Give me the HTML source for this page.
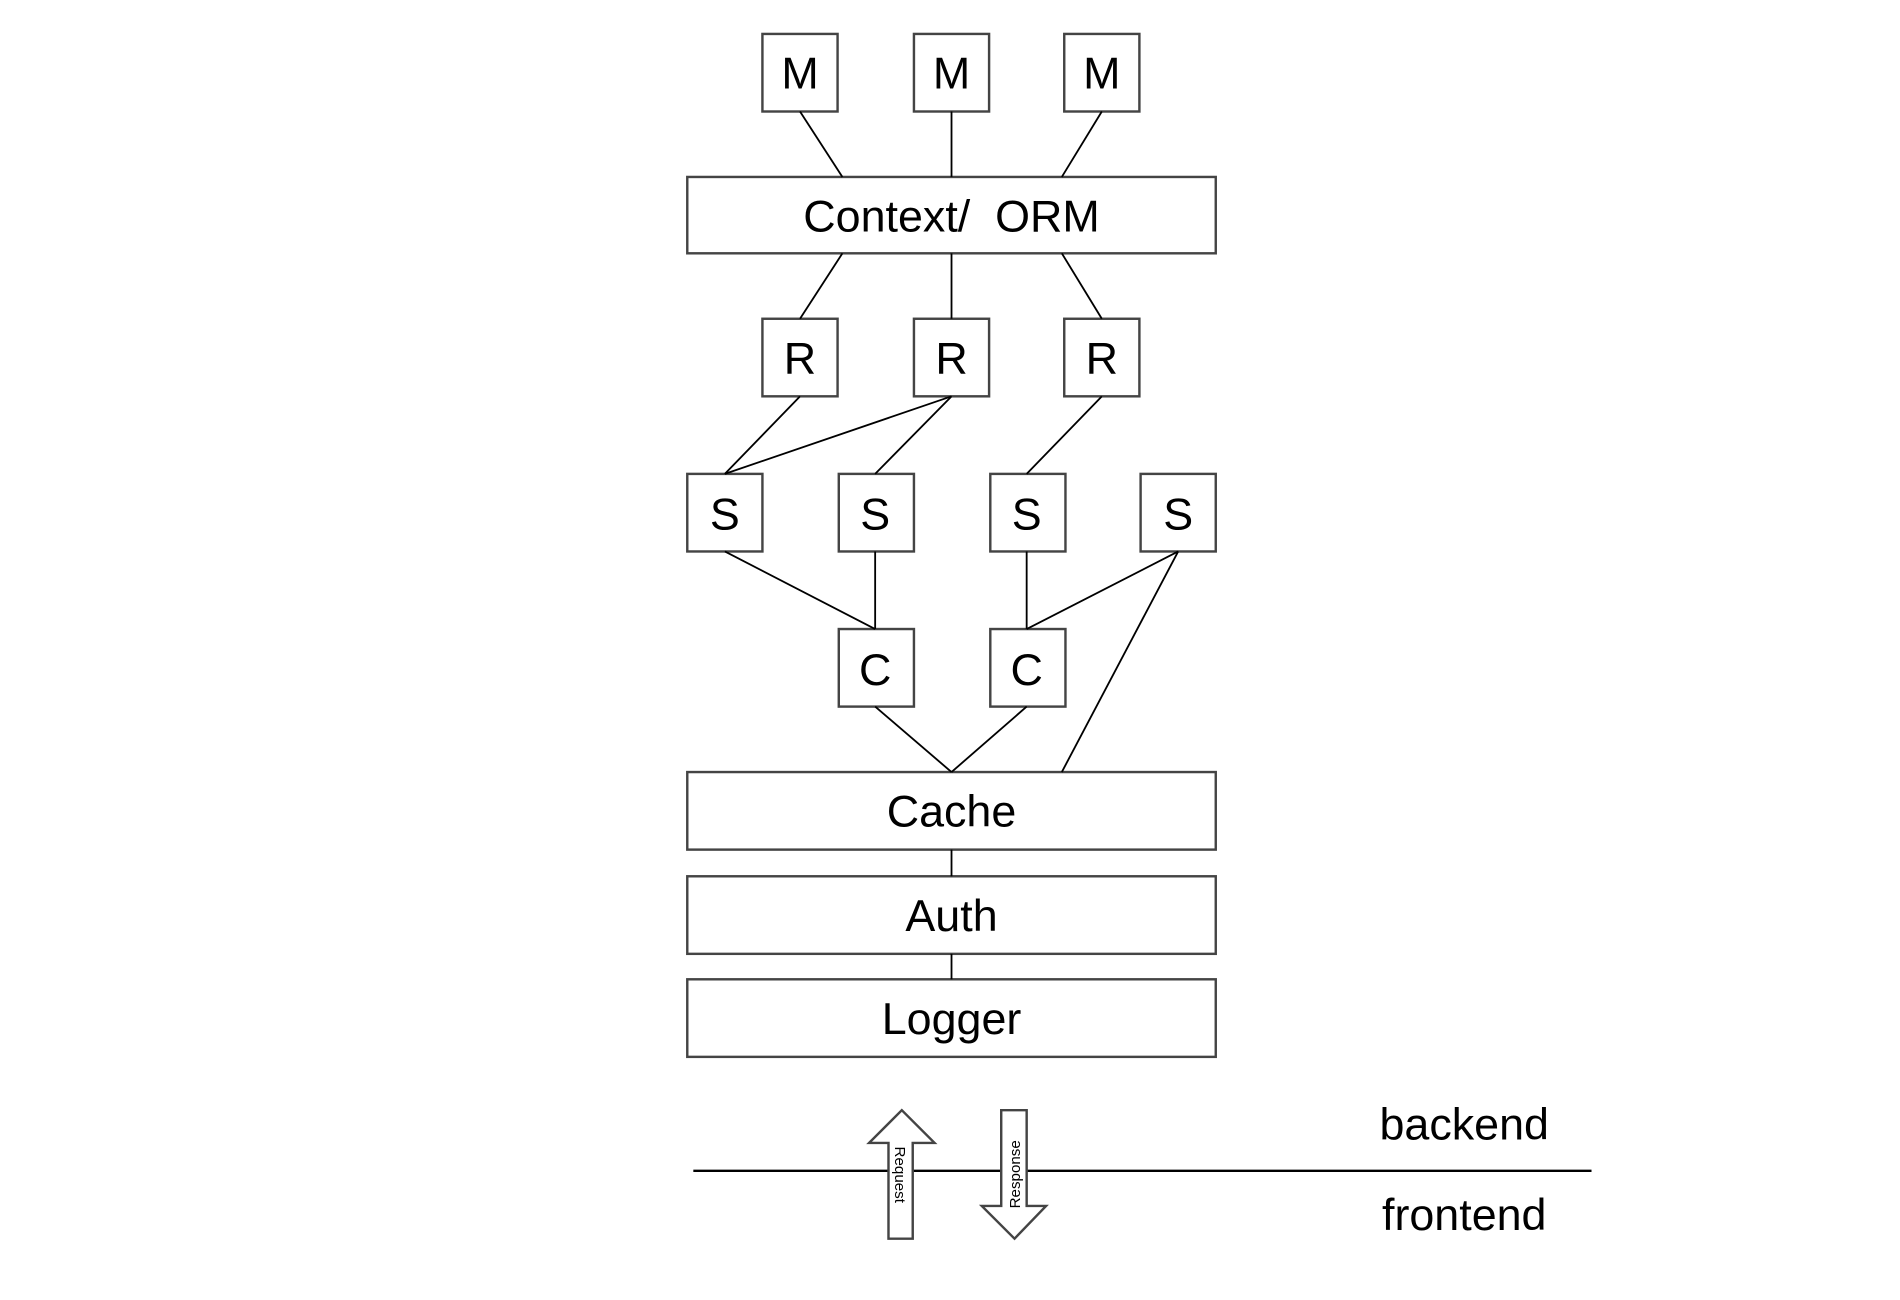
<!DOCTYPE html>
<html><head><meta charset="utf-8"><style>html,body{margin:0;padding:0;background:#fff}svg{display:block}</style></head>
<body>
<svg width="1900" height="1300" viewBox="0 0 1567.5 1072.6" preserveAspectRatio="none" xmlns="http://www.w3.org/2000/svg" font-family="Liberation Sans, Arial, sans-serif">
<g fill="#fff" stroke="#444" stroke-width="2">
<rect x="629" y="28" width="62" height="64"/><rect x="754" y="28" width="62" height="64"/><rect x="878" y="28" width="62" height="64"/>
<rect x="567" y="146" width="436" height="63"/>
<rect x="629" y="263" width="62" height="64"/><rect x="754" y="263" width="62" height="64"/><rect x="878" y="263" width="62" height="64"/>
<rect x="567" y="391" width="62" height="64"/><rect x="692" y="391" width="62" height="64"/><rect x="817" y="391" width="62" height="64"/><rect x="941" y="391" width="62" height="64"/>
<rect x="692" y="519" width="62" height="64"/><rect x="817" y="519" width="62" height="64"/>
<rect x="567" y="637" width="436" height="64"/><rect x="567" y="723" width="436" height="64"/><rect x="567" y="808" width="436" height="64"/>
</g>
<g stroke="#000" stroke-width="1.5">
<line x1="660" y1="92" x2="695" y2="146"/><line x1="785" y1="92" x2="785" y2="146"/><line x1="909" y1="92" x2="876" y2="146"/>
<line x1="695" y1="209" x2="660" y2="263"/><line x1="785" y1="209" x2="785" y2="263"/><line x1="876" y1="209" x2="909" y2="263"/>
<line x1="660" y1="327" x2="598" y2="391"/><line x1="785" y1="327" x2="598" y2="391"/><line x1="785" y1="327" x2="722" y2="391"/><line x1="909" y1="327" x2="847" y2="391"/>
<line x1="598" y1="455" x2="722" y2="519"/><line x1="722" y1="455" x2="722" y2="519"/><line x1="847" y1="455" x2="847" y2="519"/><line x1="972" y1="455" x2="847" y2="519"/><line x1="972" y1="455" x2="876" y2="637"/>
<line x1="722" y1="583" x2="785" y2="637"/><line x1="847" y1="583" x2="785" y2="637"/>
<line x1="785" y1="701" x2="785" y2="723"/><line x1="785" y1="787" x2="785" y2="808"/>
<line x1="572" y1="966" x2="1313" y2="966" stroke-width="2"/>
</g>
<g fill="#fff" stroke="#444" stroke-width="2">
<polygon points="744,916 771,943 753,943 753,1022 733,1022 733,943 717,943"/>
<polygon points="826,916 847,916 847,995 863,995 837,1022 810,995 826,995"/>
</g>
<g font-size="37" text-anchor="middle" fill="#000">
<text x="660" y="73">M</text><text x="785" y="73">M</text><text x="909" y="73">M</text>
<text x="785" y="191" xml:space="preserve">Context/  ORM</text>
<text x="660" y="308">R</text><text x="785" y="308">R</text><text x="909" y="308">R</text>
<text x="598" y="437">S</text><text x="722" y="437">S</text><text x="847" y="437">S</text><text x="972" y="437">S</text>
<text x="722" y="565">C</text><text x="847" y="565">C</text>
<text x="785" y="682">Cache</text><text x="785" y="768">Auth</text><text x="785" y="853">Logger</text>
<text x="1208" y="940">backend</text><text x="1208" y="1015">frontend</text>
</g>
<text font-size="12.5" transform="translate(738.5,946) rotate(90)">Request</text>
<text font-size="12.5" transform="translate(841.5,997) rotate(-90)">Response</text>
</svg>
</body></html>
